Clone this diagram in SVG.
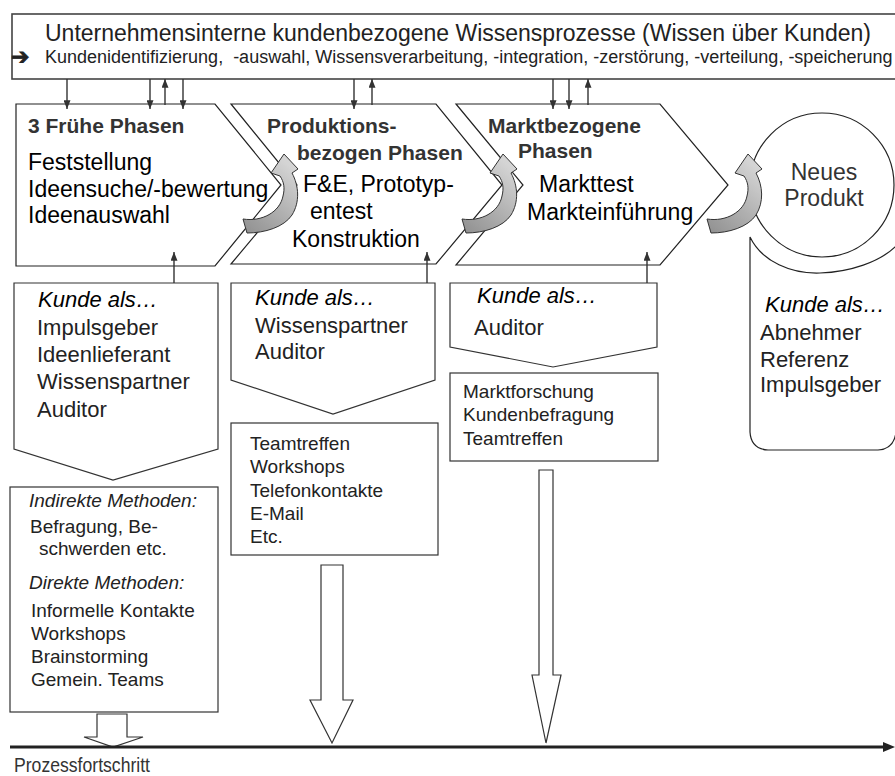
<svg xmlns="http://www.w3.org/2000/svg" width="895" height="776" viewBox="0 0 895 776">
  <style>
    .sans { font-family: "Liberation Sans", Arial, sans-serif; }
    .shape { fill: #fff; stroke: #222; stroke-width: 1.2; }
    .box { fill: #fff; stroke: #333; stroke-width: 1.2; }
    .conn { stroke: #333; stroke-width: 1.4; fill: none; }
    .title { font-size: 21px; font-weight: bold; fill: #333; }
    .main { font-size: 23px; fill: #000; }
    .role { font-size: 22px; fill: #222; }
    .roleh { font-size: 22px; font-style: italic; fill: #000; }
    .meth { font-size: 19px; fill: #222; }
    .methh { font-size: 19px; font-style: italic; fill: #222; }
    .curl { stroke: #333; stroke-width: 1; fill: url(#curlGrad); }
  </style>
  <defs>
    <marker id="tip" viewBox="0 0 10 8" refX="10" refY="4" markerWidth="9" markerHeight="7" markerUnits="userSpaceOnUse" orient="auto">
      <path d="M0,0 L10,4 L0,8 z" fill="#333"/>
    </marker>
    <linearGradient id="curlGrad" x1="0" y1="1" x2="0.6" y2="0">
      <stop offset="0" stop-color="#8f8f8f"/>
      <stop offset="0.5" stop-color="#b0b0b0"/>
      <stop offset="1" stop-color="#d4d4d4"/>
    </linearGradient>
    <!-- curved transfer arrow between two phases -->
    <path id="curlShape" d="M 243,219 C 262,222 280,212 283,196 C 285,188 284,182 280,176 L 271,173 L 284,154 L 298,169 L 292,173 C 299,186 300,202 292,215 C 284,227 265,233 247,233 Z"/>
  </defs>

  <!-- top banner -->
  <g id="banner">
    <rect x="12" y="14" width="900" height="65" fill="#fff" stroke="#444" stroke-width="1.6"/>
    <text class="sans" x="45" y="41" font-size="23" fill="#222">Unternehmensinterne kundenbezogene Wissensprozesse (Wissen über Kunden)</text>
    <text class="sans" y="63" font-size="18" fill="#222" style="white-space:pre"><tspan x="11" y="64" font-family="DejaVu Sans, sans-serif" font-size="22" stroke="#222" stroke-width="0.8">➔</tspan><tspan x="45" y="63">Kundenidentifizierung,  -auswahl, Wissensverarbeitung, -integration, -zerstörung, -verteilung, -speicherung</tspan></text>
  </g>

  <!-- phase 1 -->
  <g id="phase-early">
    <path class="shape" d="M16,104 L215,104 L281,185 L215,266 L16,266 Z"/>
    <text class="sans title" x="28" y="133">3 Frühe Phasen</text>
    <text class="sans main" x="28" y="170">Feststellung</text>
    <text class="sans main" x="28" y="197">Ideensuche/-bewertung</text>
    <text class="sans main" x="28" y="223">Ideenauswahl</text>
  </g>

  <!-- phase 2 -->
  <g id="phase-production">
    <path class="shape" d="M231,104 L436,104 L502,185 L436,264 L231,264 L297,185 Z"/>
    <text class="sans title" x="267" y="133">Produktions-</text>
    <text class="sans title" x="297" y="160">bezogen Phasen</text>
    <text class="sans main" x="303" y="192">F&amp;E, Prototyp-</text>
    <text class="sans main" x="310" y="219">entest</text>
    <text class="sans main" x="292" y="247">Konstruktion</text>
  </g>

  <!-- phase 3 -->
  <g id="phase-market">
    <path class="shape" d="M456,104 L660,104 L728,185 L660,265 L456,265 L523,185 Z"/>
    <text class="sans title" x="488" y="133">Marktbezogene</text>
    <text class="sans title" x="518" y="158">Phasen</text>
    <text class="sans main" x="539" y="192">Markttest</text>
    <text class="sans main" x="527" y="220">Markteinführung</text>
  </g>

  <!-- customer role below the new product -->
  <g id="role-product">
    <path class="shape" d="M750,237 C762,262 792,274 820,273 C850,272 880,262 896,246 L896,432 Q894,449 878,450 L768,450 Q751,449 750,432 Z"/>
    <text class="sans roleh" x="765" y="312">Kunde als…</text>
    <text class="sans role" x="760" y="340">Abnehmer</text>
    <text class="sans role" x="760" y="367">Referenz</text>
    <text class="sans role" x="760" y="392">Impulsgeber</text>
  </g>

  <!-- new product -->
  <g id="product">
    <circle class="shape" cx="822" cy="185" r="72"/>
    <text class="sans" x="824" y="180" font-size="23" fill="#333" text-anchor="middle">Neues</text>
    <text class="sans" x="824" y="206" font-size="23" fill="#333" text-anchor="middle">Produkt</text>
  </g>

  <!-- curved transfer arrows -->
  <g id="transfers">
    <use href="#curlShape" class="curl"/>
    <use href="#curlShape" class="curl" transform="translate(219,0)"/>
    <use href="#curlShape" class="curl" transform="translate(464,0)"/>
  </g>

  <!-- customer roles -->
  <g id="role-early">
    <path class="box" d="M14,283 L218,283 L218,449 L113,480 L14,449 Z"/>
    <text class="sans roleh" x="38" y="307">Kunde als…</text>
    <text class="sans role" x="37" y="335">Impulsgeber</text>
    <text class="sans role" x="37" y="362">Ideenlieferant</text>
    <text class="sans role" x="37" y="389">Wissenspartner</text>
    <text class="sans role" x="37" y="417">Auditor</text>
  </g>
  <g id="role-production">
    <path class="box" d="M231,283 L435,283 L435,380 L333,414 L231,380 Z"/>
    <text class="sans roleh" x="255" y="305">Kunde als…</text>
    <text class="sans role" x="255" y="333">Wissenspartner</text>
    <text class="sans role" x="255" y="359">Auditor</text>
  </g>
  <g id="role-market">
    <path class="box" d="M450,283 L657,283 L657,347 L553,367 L450,347 Z"/>
    <text class="sans roleh" x="477" y="303">Kunde als…</text>
    <text class="sans role" x="474" y="335">Auditor</text>
  </g>

  <!-- methods -->
  <g id="methods-early">
    <rect class="box" x="10" y="487" width="208" height="225"/>
    <text class="sans methh" x="29" y="507">Indirekte Methoden:</text>
    <text class="sans meth" x="30" y="533">Befragung, Be-</text>
    <text class="sans meth" x="39" y="555">schwerden etc.</text>
    <text class="sans methh" x="29" y="589">Direkte Methoden:</text>
    <text class="sans meth" x="31" y="617">Informelle Kontakte</text>
    <text class="sans meth" x="31" y="640">Workshops</text>
    <text class="sans meth" x="31" y="663">Brainstorming</text>
    <text class="sans meth" x="31" y="686">Gemein. Teams</text>
  </g>
  <g id="methods-production">
    <rect class="box" x="231" y="423" width="207" height="132"/>
    <text class="sans meth" x="250" y="450">Teamtreffen</text>
    <text class="sans meth" x="250" y="473">Workshops</text>
    <text class="sans meth" x="250" y="497">Telefonkontakte</text>
    <text class="sans meth" x="250" y="520">E-Mail</text>
    <text class="sans meth" x="250" y="543">Etc.</text>
  </g>
  <g id="methods-market">
    <rect class="box" x="450" y="373" width="208" height="88"/>
    <text class="sans meth" x="463" y="398">Marktforschung</text>
    <text class="sans meth" x="463" y="421">Kundenbefragung</text>
    <text class="sans meth" x="463" y="445">Teamtreffen</text>
  </g>

  <!-- connectors -->
  <g id="connectors">
    <line class="conn" x1="67" y1="79" x2="67" y2="109" marker-end="url(#tip)"/>
    <line class="conn" x1="150" y1="79" x2="150" y2="109" marker-end="url(#tip)"/>
    <line class="conn" x1="165" y1="105" x2="165" y2="79" marker-end="url(#tip)"/>
    <line class="conn" x1="183" y1="79" x2="183" y2="109" marker-end="url(#tip)"/>
    <line class="conn" x1="354" y1="79" x2="354" y2="109" marker-end="url(#tip)"/>
    <line class="conn" x1="372" y1="105" x2="372" y2="79" marker-end="url(#tip)"/>
    <line class="conn" x1="553" y1="79" x2="553" y2="109" marker-end="url(#tip)"/>
    <line class="conn" x1="569" y1="79" x2="569" y2="109" marker-end="url(#tip)"/>
    <line class="conn" x1="588" y1="105" x2="588" y2="79" marker-end="url(#tip)"/>
    <line class="conn" x1="174" y1="283" x2="174" y2="252" marker-end="url(#tip)"/>
    <line class="conn" x1="427" y1="283" x2="427" y2="252" marker-end="url(#tip)"/>
    <line class="conn" x1="647" y1="283" x2="647" y2="252" marker-end="url(#tip)"/>
    <!-- block arrows down to the process axis -->
    <path class="box" d="M97,714 L127,714 L127,737 L143,737 L113,747 L84,737 L97,737 Z"/>
    <path class="box" d="M321,565 L343,565 L343,700 L353,700 L332,743 L310,700 L321,700 Z"/>
    <path class="box" d="M539,470 L553,470 L553,675 L561,675 L546,743 L532,675 L539,675 Z"/>
  </g>

  <!-- process axis -->
  <g id="axis">
    <line x1="10" y1="747" x2="885" y2="747" stroke="#222" stroke-width="3"/>
    <path d="M883,742 L895,747 L883,752 Z" fill="#222"/>
    <text class="sans" x="14" y="772" font-size="21" fill="#333" textLength="136" lengthAdjust="spacingAndGlyphs">Prozessfortschritt</text>
  </g>
</svg>
